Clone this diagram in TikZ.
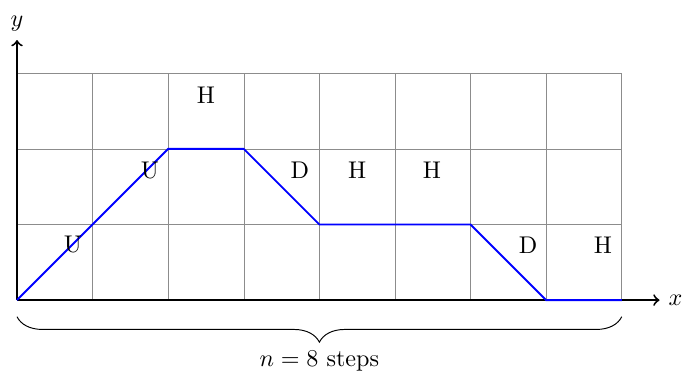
\documentclass[tikz,border=0pt]{standalone}
\usetikzlibrary{decorations.pathreplacing}
\begin{document}
\begin{tikzpicture}[x=1.1cm,y=1.1cm,
  steplabel/.style={inner sep=0pt},
  pathline/.style={blue,thick},
  axisline/.style={thick,->}]
\useasboundingbox (-0.225,-0.99) rectangle (8.85,3.97);
\draw[gray!90,very thin,step=1.1cm] (0,0) grid (8,3);
\coordinate (o) at (0,0);
\coordinate (xe) at (8.5,0);
\coordinate (ye) at (0,3.44);
\draw[axisline] (o) -- (xe) node[right] (xl) {$x$};
\draw[axisline] (o) -- (ye) node[above] (yl) {$y$};
\coordinate (p0) at (0,0);
\coordinate (p1) at (2,2);
\coordinate (p2) at (3,2);
\coordinate (p3) at (4,1);
\coordinate (p4) at (6,1);
\coordinate (p5) at (7,0);
\coordinate (p6) at (8,0);
\draw[pathline] (p0) -- (p1) -- (p2) -- (p3) -- (p4) -- (p5) -- (p6);
\node[steplabel] (l1) at (0.74,0.73) {U};
\node[steplabel] (l2) at (1.76,1.72) {U};
\node[steplabel] (l3) at (2.5,2.71) {H};
\node[steplabel] (l4) at (3.74,1.72) {D};
\node[steplabel] (l5) at (4.5,1.72) {H};
\node[steplabel] (l6) at (5.49,1.72) {H};
\node[steplabel] (l7) at (6.76,0.73) {D};
\node[steplabel] (l8) at (7.75,0.73) {H};
\coordinate (b0) at (0,-0.22);
\coordinate (b1) at (8,-0.22);
\draw[decorate,decoration={brace,mirror,amplitude=0.37cm}] (b0) -- (b1);
\node (nl) at (4,-0.8) {$n=8$ steps};
\end{tikzpicture}
\end{document}
